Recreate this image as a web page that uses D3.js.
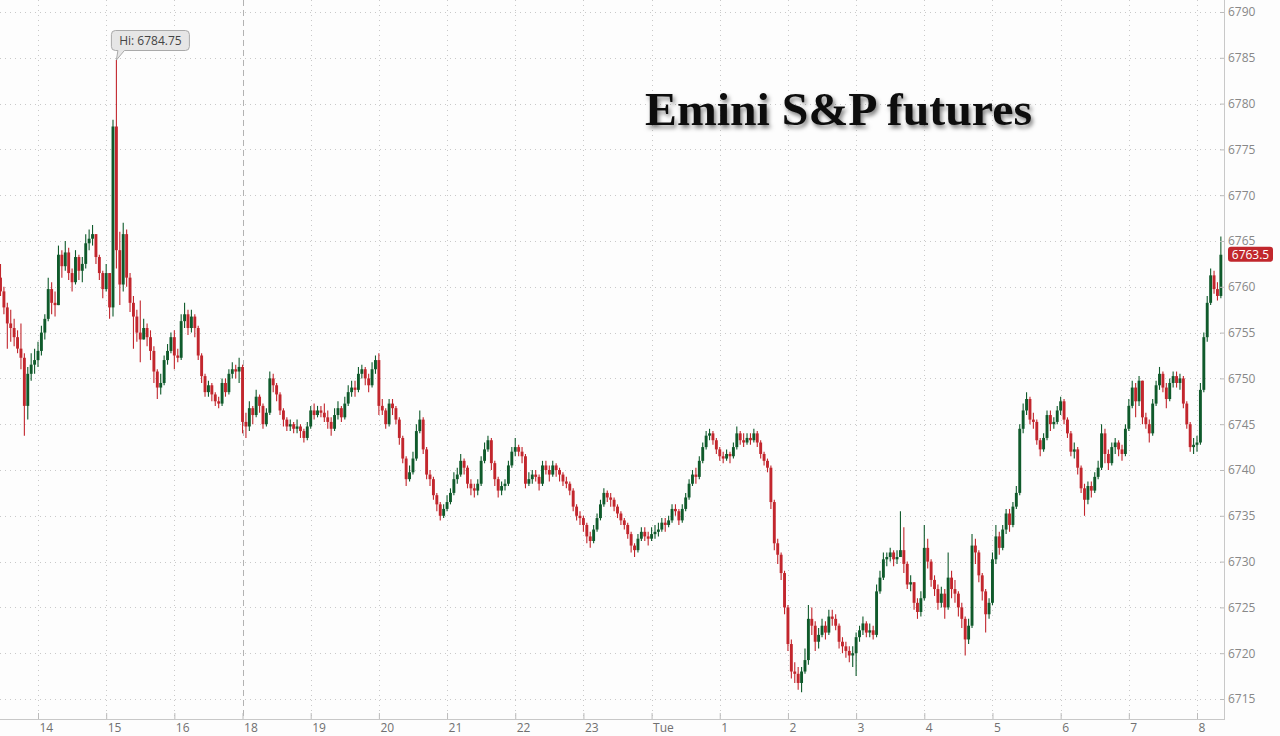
<!DOCTYPE html>
<html><head><meta charset="utf-8">
<script src="https://cdn.jsdelivr.net/npm/d3@7"></script>
<style>html,body{margin:0;padding:0;background:#fdfdfd;} svg{display:block;}</style>
</head><body>
<svg id="chart" width="1280" height="736"></svg>
<script>
// ---- data ----
const title = "Emini S&P futures";
const hourLabels = ["14","15","16","18","19","20","21","22","23","Tue","1","2","3","4","5","6","7","8"];
const firstHourBar = 11;   // bar index of the first labelled hour
const barsPerHour = 20;    // 3-minute bars
const sessionBreakLabel = "18";
const yTicks = [6715,6720,6725,6730,6735,6740,6745,6750,6755,6760,6765,6770,6775,6780,6785,6790];
const hiValue = 6784.75;
const lastPrice = 6763.5;

const opens = [
6761.0,6759.5,6757.75,6756.0,6755.5,6754.5,6753.25,6752.25,6747.0,6750.5,6751.5,6752.0,6753.0,6755.0,6756.5,6759.75,6758.25,6758.0,6763.5,6762.25,
6763.75,6761.5,6760.5,6763.25,6761.75,6762.5,6764.75,6765.25,6765.75,6763.25,6761.5,6759.75,6761.5,6757.75,6777.5,6764.0,6760.25,6765.75,6761.0,6758.25,
6756.75,6755.0,6754.25,6755.5,6754.5,6753.0,6750.75,6749.0,6749.5,6752.0,6753.0,6754.5,6752.5,6752.25,6756.25,6757.0,6755.5,6756.75,6755.5,6752.5,
6750.25,6748.5,6749.25,6748.25,6747.5,6747.25,6749.5,6748.5,6750.5,6751.0,6750.75,6751.25,6745.25,6744.75,6746.75,6746.0,6748.0,6747.0,6745.0,6746.25,
6750.0,6749.25,6748.25,6746.5,6745.5,6744.75,6745.0,6744.5,6744.75,6744.25,6743.5,6744.75,6746.5,6746.0,6746.5,6746.25,6745.75,6745.25,6744.5,6746.0,
6746.75,6745.75,6747.25,6748.5,6749.0,6748.75,6750.5,6751.0,6750.0,6749.25,6751.0,6752.0,6747.0,6746.5,6745.0,6747.25,6746.75,6745.5,6743.5,6741.25,
6739.0,6739.75,6741.25,6744.25,6745.5,6742.25,6739.5,6739.0,6737.25,6736.25,6735.0,6735.75,6736.5,6737.5,6739.0,6739.5,6741.0,6740.25,6738.5,6738.0,
6737.75,6738.5,6741.0,6742.25,6743.25,6740.75,6739.0,6737.75,6738.25,6738.5,6740.5,6742.0,6742.5,6742.0,6741.5,6738.5,6739.0,6739.5,6739.25,6738.5,
6740.5,6740.0,6739.5,6740.5,6740.0,6739.5,6738.75,6738.5,6737.75,6736.0,6735.0,6734.75,6734.0,6732.75,6732.25,6733.5,6734.75,6736.25,6737.5,6737.0,
6736.75,6736.0,6735.25,6734.5,6734.0,6733.0,6731.75,6731.25,6732.5,6733.25,6732.75,6732.5,6733.0,6733.25,6733.5,6734.25,6734.0,6734.5,6735.75,6735.5,
6734.5,6735.75,6737.0,6738.5,6739.5,6739.25,6741.0,6742.5,6743.75,6744.0,6743.25,6742.25,6741.5,6741.25,6741.75,6741.5,6742.5,6744.0,6743.25,6743.0,
6743.5,6743.25,6744.0,6743.0,6741.75,6741.0,6740.25,6736.5,6732.0,6730.75,6728.75,6725.0,6721.0,6718.0,6717.75,6716.75,6718.0,6719.25,6723.75,6723.0,
6721.25,6722.0,6723.0,6722.25,6724.0,6723.75,6723.0,6721.25,6720.75,6720.25,6719.75,6720.0,6721.75,6722.5,6723.25,6722.25,6722.5,6722.0,6726.75,6728.25,
6730.25,6730.5,6731.0,6730.25,6730.5,6731.25,6729.75,6727.5,6727.75,6725.5,6724.5,6726.0,6731.5,6730.0,6728.0,6727.0,6725.5,6726.5,6725.0,6728.25,
6727.0,6726.5,6725.0,6723.75,6721.5,6723.0,6731.75,6731.0,6728.5,6726.75,6724.25,6725.5,6730.25,6732.75,6731.5,6733.5,6735.25,6734.0,6736.0,6737.5,
6744.5,6746.5,6747.75,6745.5,6745.25,6743.25,6742.25,6743.5,6746.0,6745.0,6745.25,6746.5,6747.5,6745.5,6744.0,6742.0,6742.25,6740.25,6738.0,6736.75,
6738.25,6737.75,6739.25,6740.25,6744.0,6741.75,6740.75,6742.5,6743.0,6742.25,6741.75,6744.5,6747.0,6749.0,6747.5,6749.75,6745.75,6745.0,6744.0,6747.25,
6749.25,6750.5,6749.0,6747.75,6749.5,6750.25,6749.5,6750.0,6747.25,6745.0,6742.5,6742.75,6743.0,6748.75,6754.5,6758.25,6761.25,6759.75,6759.0
];
const highs = [
6762.5,6760.0,6758.25,6757.5,6756.5,6755.25,6756.0,6752.75,6751.25,6752.75,6753.25,6754.0,6755.75,6757.0,6761.0,6760.5,6759.5,6764.5,6764.0,6765.0,
6764.25,6762.0,6764.0,6763.5,6763.25,6765.75,6766.25,6766.75,6765.5,6763.5,6761.75,6762.5,6761.0,6778.25,6784.75,6766.0,6767.0,6766.25,6761.5,6759.0,
6757.5,6758.5,6756.5,6756.0,6755.25,6753.5,6751.0,6750.5,6752.5,6753.75,6755.0,6755.25,6753.25,6757.0,6758.25,6757.5,6757.5,6757.0,6755.75,6752.75,
6750.5,6749.75,6749.5,6748.5,6748.0,6750.0,6750.0,6751.0,6751.75,6751.5,6752.25,6751.5,6746.25,6747.5,6747.0,6748.75,6748.25,6747.25,6746.75,6750.75,
6750.5,6749.5,6748.5,6746.75,6745.75,6745.5,6745.25,6745.5,6745.0,6744.5,6745.25,6747.0,6747.25,6747.0,6747.0,6747.25,6746.5,6745.75,6746.75,6747.5,
6747.0,6748.0,6749.25,6749.75,6749.75,6751.25,6751.5,6751.25,6750.5,6751.75,6752.5,6752.75,6747.75,6746.75,6747.75,6747.75,6747.0,6745.75,6743.75,6741.5,
6740.5,6742.0,6745.0,6746.5,6745.75,6742.5,6740.0,6739.25,6737.5,6736.5,6736.25,6737.25,6738.0,6739.75,6740.25,6741.75,6741.25,6740.5,6739.0,6738.5,
6739.0,6741.5,6743.0,6743.75,6743.5,6741.0,6739.25,6738.75,6739.0,6741.0,6742.5,6743.5,6742.75,6742.5,6741.75,6739.75,6740.0,6740.0,6739.5,6741.0,
6741.0,6740.5,6741.0,6740.75,6740.25,6739.75,6739.25,6738.75,6738.0,6736.25,6735.5,6735.0,6734.25,6733.25,6734.0,6735.25,6736.75,6738.0,6737.75,6737.5,
6737.0,6736.25,6735.5,6734.75,6734.25,6733.25,6732.0,6733.0,6733.75,6733.75,6733.25,6733.75,6734.0,6734.25,6734.75,6734.75,6735.0,6736.25,6736.25,6735.75,
6736.25,6737.5,6739.0,6740.0,6740.25,6741.5,6743.0,6744.25,6744.5,6744.25,6743.5,6742.5,6742.0,6742.25,6742.0,6743.0,6744.75,6744.25,6744.0,6744.0,
6744.0,6744.5,6744.25,6743.25,6742.0,6741.25,6740.5,6736.75,6732.5,6731.0,6729.0,6725.25,6721.5,6719.0,6718.5,6718.5,6720.5,6725.25,6725.0,6723.5,
6722.75,6723.75,6723.5,6724.75,6724.75,6724.25,6723.25,6721.75,6721.25,6720.75,6720.75,6722.25,6723.0,6724.0,6723.5,6723.25,6723.0,6727.5,6729.0,6731.0,
6731.0,6731.5,6731.25,6731.25,6735.5,6733.75,6730.0,6728.5,6727.75,6726.0,6726.75,6734.0,6732.5,6730.25,6728.5,6727.5,6727.25,6727.0,6731.0,6729.0,
6728.0,6726.75,6725.5,6724.0,6723.75,6733.0,6732.5,6731.25,6728.75,6727.0,6726.0,6731.0,6734.0,6733.25,6734.0,6735.75,6735.75,6736.5,6738.25,6745.0,
6747.25,6748.5,6748.0,6746.25,6745.5,6743.5,6744.0,6746.5,6746.5,6745.75,6747.0,6748.0,6747.75,6745.75,6744.25,6743.0,6742.5,6740.5,6738.5,6738.75,
6738.75,6739.75,6741.0,6745.0,6744.5,6742.25,6743.0,6743.5,6743.25,6742.75,6745.0,6747.75,6749.75,6749.5,6750.25,6749.75,6746.25,6745.5,6747.75,6749.75,
6751.25,6750.75,6749.5,6750.0,6750.75,6750.75,6750.5,6750.25,6747.5,6745.25,6743.5,6743.75,6749.5,6755.0,6759.0,6762.0,6761.75,6760.5,6765.5
];
const lows = [
6759.0,6757.0,6753.25,6754.0,6753.5,6752.75,6751.0,6743.75,6745.5,6749.75,6750.5,6751.25,6752.5,6754.25,6756.25,6757.0,6756.75,6758.0,6761.0,6761.75,
6760.75,6759.5,6760.25,6760.75,6760.5,6762.0,6764.0,6764.5,6762.5,6760.75,6758.75,6759.5,6756.5,6756.75,6762.0,6758.0,6759.5,6760.0,6757.25,6753.25,
6754.0,6751.75,6754.25,6753.5,6752.0,6749.5,6747.75,6748.25,6749.25,6751.5,6752.75,6751.0,6751.75,6752.0,6755.5,6754.75,6755.0,6754.5,6752.0,6749.5,
6748.0,6748.0,6747.5,6747.0,6746.75,6747.0,6748.0,6748.25,6750.0,6750.0,6749.5,6744.0,6743.5,6744.25,6745.0,6745.75,6746.25,6744.5,6744.75,6746.0,
6748.5,6747.5,6746.0,6744.75,6744.25,6744.25,6744.0,6744.0,6743.5,6743.0,6743.25,6744.5,6745.5,6745.75,6745.75,6745.25,6744.5,6743.75,6744.25,6745.5,
6745.25,6745.5,6747.0,6748.0,6748.0,6748.5,6750.0,6749.25,6748.5,6749.0,6750.5,6746.0,6746.0,6744.5,6744.75,6746.0,6745.0,6742.75,6740.75,6738.25,
6738.75,6739.5,6741.0,6744.0,6741.75,6739.0,6738.25,6736.75,6735.5,6734.5,6734.75,6735.5,6736.25,6737.25,6738.5,6739.25,6739.5,6738.0,6737.25,6737.0,
6737.25,6738.25,6740.75,6742.0,6740.0,6738.25,6737.0,6737.25,6737.75,6738.25,6740.25,6741.5,6741.5,6740.75,6738.0,6738.25,6738.5,6738.75,6737.75,6738.25,
6739.5,6738.75,6739.25,6739.25,6738.75,6738.25,6738.0,6737.25,6735.5,6734.5,6734.0,6733.25,6732.0,6731.5,6732.0,6733.25,6734.5,6736.0,6736.5,6736.0,
6735.5,6734.75,6734.0,6733.5,6732.5,6731.0,6730.5,6731.0,6732.25,6732.25,6731.75,6732.25,6732.5,6732.75,6733.25,6733.25,6733.75,6734.25,6735.0,6734.0,
6734.25,6735.5,6736.75,6738.25,6738.5,6739.0,6740.75,6742.25,6743.25,6742.75,6741.75,6741.0,6740.75,6741.0,6740.75,6741.25,6742.25,6742.75,6742.5,6742.75,
6742.75,6743.0,6742.5,6741.25,6740.5,6739.75,6735.75,6731.25,6729.75,6728.0,6724.25,6720.25,6717.25,6716.75,6716.0,6715.75,6717.75,6718.75,6722.0,6720.25,
6720.5,6721.75,6721.5,6722.0,6723.0,6722.5,6720.5,6720.0,6719.5,6719.0,6718.5,6717.5,6721.25,6722.0,6721.75,6721.75,6721.5,6721.75,6726.5,6728.0,
6729.5,6730.0,6729.5,6729.75,6730.5,6728.75,6727.0,6726.75,6724.75,6723.75,6724.0,6725.75,6729.25,6727.25,6726.25,6724.75,6725.0,6723.75,6724.75,6726.0,
6725.5,6724.0,6722.75,6719.75,6721.0,6722.75,6729.75,6727.75,6725.75,6722.25,6723.75,6725.25,6729.75,6730.75,6731.25,6733.0,6733.25,6733.75,6735.75,6737.25,
6744.0,6746.0,6745.0,6744.5,6742.75,6741.5,6742.0,6743.25,6744.25,6744.5,6745.0,6746.0,6745.0,6743.5,6741.5,6741.25,6739.5,6737.5,6735.0,6736.25,
6737.0,6737.5,6739.0,6740.0,6740.75,6740.0,6740.5,6741.75,6741.5,6741.0,6741.5,6744.25,6746.75,6745.75,6747.0,6745.0,6744.5,6743.0,6743.75,6747.0,
6748.75,6748.5,6746.75,6747.5,6749.0,6749.0,6748.75,6746.75,6744.5,6742.0,6741.75,6742.0,6742.75,6748.5,6754.0,6758.0,6759.25,6758.5,6758.75
];
const closes = [
6759.5,6757.75,6756.0,6755.5,6754.5,6753.25,6752.25,6747.0,6750.5,6751.5,6752.0,6753.0,6755.0,6756.5,6759.75,6758.25,6758.0,6763.5,6762.25,6763.75,
6761.5,6760.5,6763.25,6761.75,6762.5,6764.75,6765.25,6765.75,6763.25,6761.5,6759.75,6761.5,6757.75,6777.5,6764.0,6760.25,6765.75,6761.0,6758.25,6756.75,
6755.0,6754.25,6755.5,6754.5,6753.0,6750.75,6749.0,6749.5,6752.0,6753.0,6754.5,6752.5,6752.25,6756.25,6757.0,6755.5,6756.75,6755.5,6752.5,6750.25,
6748.5,6749.25,6748.25,6747.5,6747.25,6749.5,6748.5,6750.5,6751.0,6750.75,6751.25,6745.25,6744.75,6746.75,6746.0,6748.0,6747.0,6745.0,6746.25,6750.0,
6749.25,6748.25,6746.5,6745.5,6744.75,6745.0,6744.5,6744.75,6744.25,6743.5,6744.75,6746.5,6746.0,6746.5,6746.25,6745.75,6745.25,6744.5,6746.0,6746.75,
6745.75,6747.25,6748.5,6749.0,6748.75,6750.5,6751.0,6750.0,6749.25,6751.0,6752.0,6747.0,6746.5,6745.0,6747.25,6746.75,6745.5,6743.5,6741.25,6739.0,
6739.75,6741.25,6744.25,6745.5,6742.25,6739.5,6739.0,6737.25,6736.25,6735.0,6735.75,6736.5,6737.5,6739.0,6739.5,6741.0,6740.25,6738.5,6738.0,6737.75,
6738.5,6741.0,6742.25,6743.25,6740.75,6739.0,6737.75,6738.25,6738.5,6740.5,6742.0,6742.5,6742.0,6741.5,6738.5,6739.0,6739.5,6739.25,6738.5,6740.5,
6740.0,6739.5,6740.5,6740.0,6739.5,6738.75,6738.5,6737.75,6736.0,6735.0,6734.75,6734.0,6732.75,6732.25,6733.5,6734.75,6736.25,6737.5,6737.0,6736.75,
6736.0,6735.25,6734.5,6734.0,6733.0,6731.75,6731.25,6732.5,6733.25,6732.75,6732.5,6733.0,6733.25,6733.5,6734.25,6734.0,6734.5,6735.75,6735.5,6734.5,
6735.75,6737.0,6738.5,6739.5,6739.25,6741.0,6742.5,6743.75,6744.0,6743.25,6742.25,6741.5,6741.25,6741.75,6741.5,6742.5,6744.0,6743.25,6743.0,6743.5,
6743.25,6744.0,6743.0,6741.75,6741.0,6740.25,6736.5,6732.0,6730.75,6728.75,6725.0,6721.0,6718.0,6717.75,6716.75,6718.0,6719.25,6723.75,6723.0,6721.25,
6722.0,6723.0,6722.25,6724.0,6723.75,6723.0,6721.25,6720.75,6720.25,6719.75,6720.0,6721.75,6722.5,6723.25,6722.25,6722.5,6722.0,6726.75,6728.25,6730.25,
6730.5,6731.0,6730.25,6730.5,6731.25,6729.75,6727.5,6727.75,6725.5,6724.5,6726.0,6731.5,6730.0,6728.0,6727.0,6725.5,6726.5,6725.0,6728.25,6727.0,
6726.5,6725.0,6723.75,6721.5,6723.0,6731.75,6731.0,6728.5,6726.75,6724.25,6725.5,6730.25,6732.75,6731.5,6733.5,6735.25,6734.0,6736.0,6737.5,6744.5,
6746.5,6747.75,6745.5,6745.25,6743.25,6742.25,6743.5,6746.0,6745.0,6745.25,6746.5,6747.5,6745.5,6744.0,6742.0,6742.25,6740.25,6738.0,6736.75,6738.25,
6737.75,6739.25,6740.25,6744.0,6741.75,6740.75,6742.5,6743.0,6742.25,6741.75,6744.5,6747.0,6749.0,6747.5,6749.75,6745.75,6745.0,6744.0,6747.25,6749.25,
6750.5,6749.0,6747.75,6749.5,6750.25,6749.5,6750.0,6747.25,6745.0,6742.5,6742.75,6743.0,6748.75,6754.5,6758.25,6761.25,6759.75,6759.0,6763.5
];

// ---- chart ----
const plotRight = 1224, plotBottom = 719;
const svg = d3.select("#chart");
const green = "#0f5a2b", red = "#c2262d";

const defs = svg.append("defs");
const f = defs.append("filter").attr("id","shadow").attr("x","-10%").attr("y","-30%").attr("width","120%").attr("height","170%");
f.append("feDropShadow").attr("dx",2).attr("dy",3).attr("stdDeviation",2.2)
  .attr("flood-color","#000").attr("flood-opacity",0.5);

svg.append("rect").attr("width",1280).attr("height",736).attr("fill","#fdfdfd");

const tickIdx = hourLabels.map((d,i) => firstHourBar + i*barsPerHour);
const x = d3.scaleLinear()
  .domain([tickIdx[0], tickIdx[tickIdx.length-1]])
  .range([38, 1197]);
const y = d3.scaleLinear().domain([6715, 6790]).range([699, 12]);

// horizontal grid
svg.append("g").selectAll("line").data(yTicks).join("line")
  .attr("x1",0).attr("x2",plotRight)
  .attr("y1",d=>Math.round(y(d))+0.5).attr("y2",d=>Math.round(y(d))+0.5)
  .attr("stroke","#c9c9c9").attr("stroke-dasharray","1,4");

// vertical grid
svg.append("g").selectAll("line").data(tickIdx).join("line")
  .attr("x1",d=>Math.round(x(d))+0.5).attr("x2",d=>Math.round(x(d))+0.5)
  .attr("y1",0).attr("y2",plotBottom)
  .attr("stroke",(d,i)=>hourLabels[i]===sessionBreakLabel ? "#b3b3b3" : "#c9c9c9")
  .attr("stroke-dasharray",(d,i)=>hourLabels[i]===sessionBreakLabel ? "6,4" : "1,4");

// candles
const bars = closes.map((c,i)=>({i, o:opens[i], h:highs[i], l:lows[i], c}));
const cg = svg.append("g");
const bodyW = 2.9;
cg.selectAll("line.wick").data(bars).join("line")
  .attr("class","wick")
  .attr("x1",d=>x(d.i)).attr("x2",d=>x(d.i))
  .attr("y1",d=>y(Math.max(d.h,d.o,d.c))).attr("y2",d=>y(Math.min(d.l,d.o,d.c)))
  .attr("stroke",d=>d.c>d.o?green:red).attr("stroke-width",1.1);
cg.selectAll("rect.body").data(bars).join("rect")
  .attr("class","body")
  .attr("x",d=>x(d.i)-bodyW/2).attr("width",bodyW)
  .attr("y",d=>y(Math.max(d.o,d.c)))
  .attr("height",d=>Math.max(1.2, y(Math.min(d.o,d.c))-y(Math.max(d.o,d.c))))
  .attr("fill",d=>d.c>d.o?green:red);

// axes lines
svg.append("line").attr("x1",plotRight+0.5).attr("x2",plotRight+0.5).attr("y1",0).attr("y2",plotBottom+1)
  .attr("stroke","#c8c8c8");
svg.append("line").attr("x1",0).attr("x2",plotRight+1).attr("y1",plotBottom+0.5).attr("y2",plotBottom+0.5)
  .attr("stroke","#c8c8c8");

// y axis
const yAxis = d3.axisRight(y).tickValues(yTicks).tickSizeInner(-4).tickSizeOuter(0).tickPadding(4)
  .tickFormat(d3.format("d"));
const yg = svg.append("g").attr("transform",`translate(${plotRight},0)`).call(yAxis);
yg.select(".domain").remove();
yg.selectAll("line").attr("stroke","#bbb");
yg.selectAll("text").attr("fill","#888").style("font-family","'Open Sans', sans-serif").style("font-size","12px");

// x axis
const xAxis = d3.axisBottom(x).tickValues(tickIdx).tickFormat((d,i)=>hourLabels[i])
  .tickSizeInner(-6).tickSizeOuter(0).tickPadding(4);
const xg = svg.append("g").attr("transform",`translate(0,${plotBottom})`).call(xAxis);
xg.select(".domain").remove();
xg.selectAll("line").attr("stroke","#bbb");
xg.selectAll("text").attr("fill","#707070").attr("text-anchor","start").attr("dx",1)
  .style("font-family","'Open Sans', sans-serif").style("font-size","12px");

// last price badge
const lp = y(lastPrice);
svg.append("rect").attr("x",plotRight+4).attr("y",lp-8).attr("width",45).attr("height",15).attr("rx",3)
  .attr("fill","#c1272d");
svg.append("text").attr("x",plotRight+26.5).attr("y",lp+4).attr("text-anchor","middle")
  .attr("fill","#fff").style("font-family","'Open Sans', sans-serif").style("font-size","12px")
  .text(String(lastPrice));

// Hi label
const hiIdx = highs.indexOf(hiValue);
const tx = x(hiIdx), ty = y(hiValue);
const L = tx - 5, T = 30.5, R = L + 78, B = 50.5, r = 4, p1 = tx + 1.5, p2 = tx + 8;
const path = `M${L+r},${T} H${R-r} Q${R},${T} ${R},${T+r} V${B-r} Q${R},${B} ${R-r},${B} H${p2} L${tx},${ty} L${p1},${B} H${L+r} Q${L},${B} ${L},${B-r} V${T+r} Q${L},${T} ${L+r},${T} Z`;
svg.append("path").attr("d",path).attr("fill","#e6e6e6").attr("stroke","#a9a9a9").attr("stroke-width",1);
svg.append("text").attr("x",(L+R)/2).attr("y",45).attr("text-anchor","middle")
  .attr("fill","#444").style("font-family","'Open Sans', sans-serif").style("font-size","12px")
  .text("Hi: " + hiValue);

// title
svg.append("text").attr("x",645).attr("y",125)
  .attr("textLength",387).attr("lengthAdjust","spacingAndGlyphs")
  .attr("fill","#111").attr("filter","url(#shadow)")
  .style("font-family","'Liberation Serif', 'Times New Roman', serif").style("font-weight","bold").style("font-size","46px")
  .text(title);
</script>
</body></html>
